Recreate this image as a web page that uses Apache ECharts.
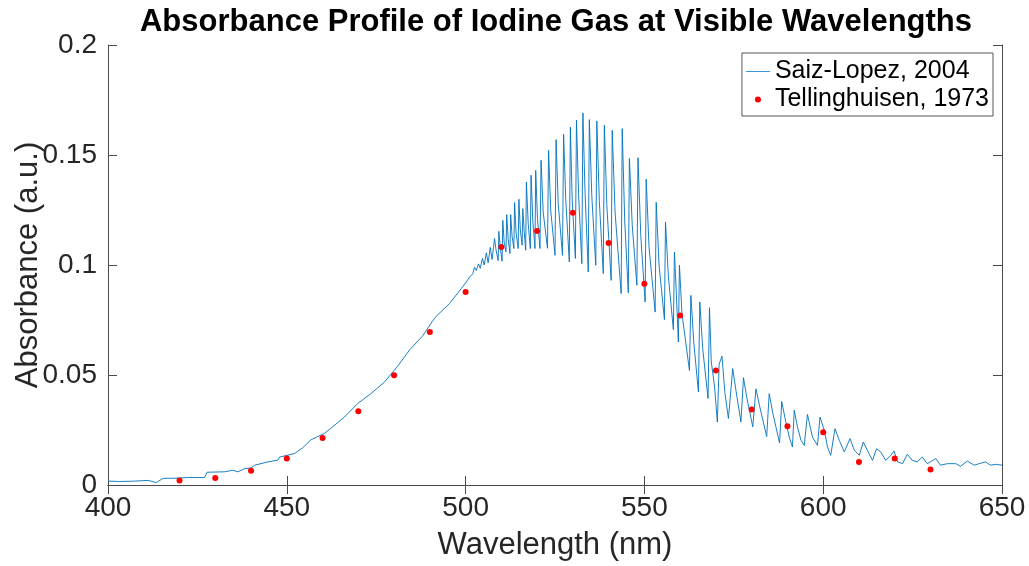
<!DOCTYPE html>
<html>
<head>
<meta charset="utf-8">
<script src="https://cdn.jsdelivr.net/npm/echarts@6/dist/echarts.min.js"></script>
<style>
html,body{margin:0;padding:0;background:#fff;}
#chart{width:1029px;height:566px;}
</style>
</head>
<body>
<div id="chart"></div>
<script>
// Saiz-Lopez, 2004 spectrum (wavelength nm, absorbance a.u.)
const saizWavelength = [
400.0,403.0,406.5,409.0,411.2,413.5,415.4,419.0,422.3,427.0,427.7,432.6,434.9,436.3,438.2,440.0,441.0,444.7,447.5,448.0,
452.2,454.5,456.8,460.5,462.8,466.1,469.8,473.5,477.3,481.0,484.4,488.1,490.9,491.8,495.5,498.8,500.2,501.1,
502.0,502.5,503.0,503.6,504.1,504.7,505.2,505.8,506.3,506.9,507.4,
507.9,508.1,508.5, 509.1,509.3,509.7, 510.2,510.4,510.8, 511.3,511.5,511.9, 512.4,512.6,513.0,
513.5,513.7,514.1, 514.7,514.9,515.3, 515.8,516.0,516.4, 516.8,517.0,517.5, 518.1,518.3,518.8,
519.4,519.6,520.1, 520.8,521.1,521.7, 522.9,523.2,523.8, 525.0,525.3,525.9, 527.1,527.4,528.0,
529.0,529.3,529.8, 530.7,531.0,531.6, 532.5,532.8,533.4, 534.3,534.6,535.3, 536.4,536.7,537.4,
538.5,538.8,539.5, 540.7,541.0,541.8, 543.5,543.8,544.5, 545.5,545.8,546.6, 547.9,548.2,549.0,
550.2,550.5,551.3, 553.0,553.3,554.1, 555.6,555.9,556.7, 558.1,558.4,558.9, 559.5,559.8,560.5,
562.6,563.0,563.8, 565.1,565.5,566.3, 567.8,568.2,568.7,569.6, 570.4,570.9,571.7,572.5,
573.5,574.7,575.6, 577.0,577.7,578.6, 580.3,581.2,582.2, 584.2,584.9,586.0, 587.8,588.4,589.5,
590.5,591.4,591.9,592.8,593.8,594.7,595.6,597.0,598.4,599.1,600.3,601.2,602.1,603.3,604.5,605.9,606.3,
607.5,608.7,610.1,611.2,612.8,613.8,614.9,616.1,617.5,618.9,619.8,620.8,622.2,623.5,624.9,626.3,627.7,
629.1,631.5,632.8,634.7,637.1,638.4,640.3,642.2,643.6,645.4,646.8,648.2,650.0
];
const saizAbsorbance = [
0.0018,0.0016,0.0017,0.0019,0.0021,0.0011,0.0030,0.0031,0.0034,0.0034,0.0058,0.0060,0.0067,0.0060,0.0074,0.0077,0.0090,0.0105,0.0113,0.0127,
0.0143,0.0170,0.0206,0.0234,0.0264,0.0309,0.0370,0.0415,0.0468,0.0540,0.0615,0.0680,0.0749,0.0767,0.0825,0.0893,0.0923,0.0945,
0.0960,0.0990,0.0975,0.1005,0.0985,0.1030,0.1000,0.1055,0.1010,0.1080,0.1025,
0.1025,0.1120,0.1070, 0.1020,0.1153,0.1080, 0.1017,0.1203,0.1100, 0.1060,0.1229,0.1120, 0.1052,0.1229,0.1130,
0.1075,0.1284,0.1150, 0.1075,0.1299,0.1160, 0.1090,0.1256,0.1150, 0.1067,0.1377,0.1190, 0.1075,0.1408,0.1200,
0.1075,0.1430,0.1210, 0.1075,0.1476,0.1240, 0.1076,0.1521,0.1250, 0.1044,0.1570,0.1280, 0.1044,0.1594,0.1300,
0.1014,0.1627,0.1300, 0.1030,0.1658,0.1320, 0.1006,0.1691,0.1330, 0.0968,0.1661,0.1310, 0.0999,0.1655,0.1290,
0.0961,0.1635,0.1270, 0.0930,0.1612,0.1240, 0.0870,0.1620,0.1200, 0.0873,0.1484,0.1180, 0.0908,0.1488,0.1130,
0.0832,0.1390,0.1080, 0.0786,0.1285,0.1000, 0.0752,0.1195,0.0950, 0.0706,0.1058,0.0880, 0.0650,0.0999,0.0780,
0.0520,0.0862,0.0650, 0.0423,0.0832,0.0620, 0.0393,0.0806,0.0560,0.0450, 0.0286,0.0550,0.0585,0.0420,
0.0302,0.0529,0.0430, 0.0286,0.0488,0.0400, 0.0264,0.0437,0.0360, 0.0220,0.0415,0.0320, 0.0191,0.0379,0.0290,
0.0218,0.0173,0.0340,0.0264,0.0203,0.0180,0.0321,0.0218,0.0180,0.0309,0.0249,0.0173,0.0135,0.0256,0.0203,0.0150,0.0143,
0.0211,0.0158,0.0135,0.0195,0.0143,0.0112,0.0165,0.0150,0.0112,0.0135,0.0155,0.0105,0.0097,0.0140,0.0112,0.0105,0.0127,
0.0097,0.0120,0.0090,0.0097,0.0097,0.0085,0.0109,0.0090,0.0097,0.0105,0.0090,0.0094,0.0090
];
// Tellinghuisen, 1973 points
const tellWavelength = [420,430,440,450,460,470,480,490,500,510,520,530,540,550,560,570,580,590,600,610,620,630];
const tellAbsorbance = [0.0021,0.0032,0.0065,0.0120,0.0214,0.0335,0.0499,0.0695,0.0877,0.1082,0.1155,0.1238,0.1100,0.0915,0.0771,0.0521,0.0343,0.0267,0.0240,0.0105,0.0120,0.0071];
const xTicks = {min:400, max:650, step:50};
const yTicks = {min:0, max:0.2, step:0.05};
const titleText = 'Absorbance Profile of Iodine Gas at Visible Wavelengths';
const xLabel = 'Wavelength (nm)';
const yLabel = 'Absorbance (a.u.)';
const seriesNames = ['Saiz-Lopez, 2004','Tellinghuisen, 1973'];

const saizData = saizWavelength.map((w,i)=>[w, saizAbsorbance[i]]);
const tellData = tellWavelength.map((w,i)=>[w, tellAbsorbance[i]]);

const FONT = '"Liberation Sans", Arial, Helvetica, sans-serif';
const AX = '#262626';
const AXLINE = '#4a4a4a';
const tick = {show:true, inside:true, length:9, lineStyle:{color:AXLINE, width:1}};
const lineIcon = 'path://M0,0h0.01v0.01h-0.01Z M0,2.6h24v0.9h-24Z M23.99,5.99h0.01v0.01h-0.01Z';

const chart = echarts.init(document.getElementById('chart'), null, {renderer:'canvas'});
chart.setOption({
  animation:false,
  backgroundColor:'#fff',
  title:{text:titleText, left:551, textAlign:'center', top:2,
    textStyle:{fontFamily:FONT, fontSize:31, fontWeight:'bold', color:'#000'}},
  grid:{left:108, right:27, top:45, bottom:81, containLabel:false, outerBoundsMode:'none'},
  legend:{
    orient:'vertical', right:36, top:53,
    backgroundColor:'#fff', borderColor:'#555', borderWidth:1,
    padding:[6,4,4,4], itemGap:3, itemWidth:24, itemHeight:6,
    textStyle:{fontFamily:FONT, fontSize:25, color:'#000'},
    data:[{name:seriesNames[0], icon:lineIcon, itemStyle:{color:'#3d95d3'}},
          {name:seriesNames[1], icon:'circle', itemStyle:{color:'#ff0000'}}]
  },
  xAxis:[{
    type:'value', min:xTicks.min, max:xTicks.max, interval:xTicks.step,
    name:xLabel, nameLocation:'middle', nameGap:45, nameMoveOverlap:false,
    nameTextStyle:{fontFamily:FONT, fontSize:31, color:AX},
    axisLine:{lineStyle:{color:AXLINE, width:1}}, axisTick:tick, splitLine:{show:false},
    axisLabel:{fontFamily:FONT, fontSize:28, color:AX, margin:9}
  },{
    type:'value', position:'top', min:xTicks.min, max:xTicks.max, interval:xTicks.step,
    axisLine:{lineStyle:{color:AXLINE, width:1}}, axisTick:tick, splitLine:{show:false}, axisLabel:{show:false}
  }],
  yAxis:[{
    type:'value', min:yTicks.min, max:yTicks.max, interval:yTicks.step,
    name:yLabel, nameLocation:'middle', nameGap:64, nameRotate:90, nameMoveOverlap:false,
    nameTextStyle:{fontFamily:FONT, fontSize:31, color:AX},
    axisLine:{show:true, lineStyle:{color:AXLINE, width:1}}, axisTick:tick, splitLine:{show:false},
    axisLabel:{fontFamily:FONT, fontSize:28, color:AX, margin:11}
  },{
    type:'value', position:'right', min:yTicks.min, max:yTicks.max, interval:yTicks.step,
    axisLine:{show:true, lineStyle:{color:AXLINE, width:1}}, axisTick:tick, splitLine:{show:false}, axisLabel:{show:false}
  }],
  series:[{
    name:seriesNames[0], type:'line', data:saizData, symbol:'none', showSymbol:false,
    lineStyle:{color:'#0072BD', width:0.9}, itemStyle:{color:'#0072BD'}, z:2
  },{
    name:seriesNames[1], type:'scatter', data:tellData, symbol:'circle', symbolSize:6,
    itemStyle:{color:'#ff0000', opacity:1}, z:3
  }]
});
</script>
</body>
</html>
